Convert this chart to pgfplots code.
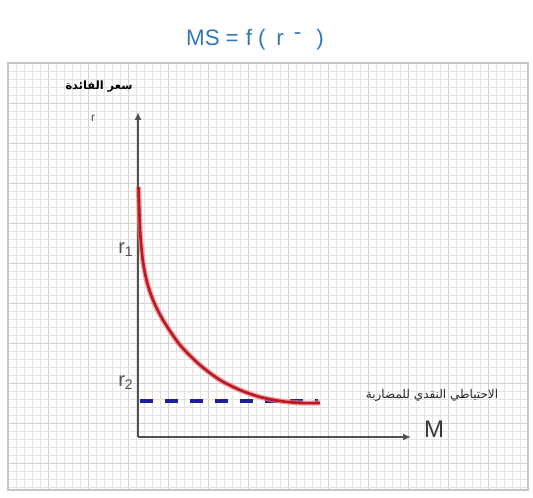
\documentclass[border=0pt]{standalone}
\usepackage{pgfplots}
\pgfplotsset{compat=1.18}
\usepackage{fontspec}
\setmainfont{Liberation Sans}
\newfontfamily\arabicfont[Script=Arabic]{DejaVu Sans}
\TeXXeTstate=1
\usetikzlibrary{arrows.meta}
\definecolor{titleblue}{RGB}{50,120,185}
\definecolor{curvered}{RGB}{185,25,35}
\definecolor{halored}{RGB}{240,120,125}
\definecolor{dashblue}{RGB}{30,30,160}
\definecolor{axgray}{RGB}{80,80,80}
\definecolor{gridc}{RGB}{228,225,225}
\definecolor{gridmaj}{RGB}{212,208,208}
\pgfplotstableread{
x y
138.5 187
139.5 215
140.5 237
143 262
147 282
153 300
163 320
180 345
200 365
220 380
240 390
260 397
280 401
300 403
320 403
}\curve
\begin{document}
\begin{tikzpicture}
\begin{axis}[
  x=0.5pt, y=0.5pt,
  xmin=8, xmax=528, ymin=63, ymax=490,
  y dir=reverse,
  axis line style={draw=gray!45, line width=0.6pt},
  xtick={8,48,...,528}, ytick={63,103,...,490},
  minor x tick num=4, minor y tick num=4,
  xticklabels={}, yticklabels={},
  major tick length=0pt, minor tick length=0pt,
  grid=both,
  major grid style={draw=gridmaj, line width=0.35pt},
  minor grid style={draw=gridc, line width=0.3pt},
  clip=false,
]
\coordinate (BL) at (axis cs:0,497);
\coordinate (TR) at (axis cs:533,0);
% axes
\addplot[axgray, line width=1.2pt, -{Latex[length=4pt,width=3.5pt]}] coordinates {(138,437) (138,112)};
\addplot[axgray, line width=1.2pt, -{Latex[length=4pt,width=3.5pt]}] coordinates {(138,437) (411,437)};
% dashed line
\addplot[dashblue, line width=2pt, dash pattern=on 6.5pt off 6pt] coordinates {(140,401) (318,401)};
% curve
\addplot[halored, line width=2.6pt, smooth, opacity=0.7] table[x=x,y=y] {\curve};
\addplot[curvered, line width=1.3pt, smooth] table[x=x,y=y] {\curve};
% texts
\node[text=titleblue, font=\fontsize{11.2}{13}\selectfont] at (axis cs:255,40) {MS\hspace{3pt}=\hspace{3.5pt}f\hspace{3pt}(\hspace{5.5pt}r\hspace{5pt}\raisebox{3.2pt}{-}\hspace{7.5pt})};
\node[font=\arabicfont\bfseries\fontsize{5.7}{7}\selectfont] at (axis cs:99,87) {\beginR سعر الفائدة\endR};
\node[font=\fontsize{6}{7}\selectfont, text=axgray] at (axis cs:93,118) {r};
\node[font=\arabicfont\fontsize{6}{7}\selectfont, text=black!85] at (axis cs:432,395) {\beginR الاحتياطي النقدي للمضاربة\endR};
\node[font=\fontsize{12}{14}\selectfont, text=axgray!70!black] at (axis cs:434,429) {M};
\node[font=\fontsize{10}{12}\selectfont, text=axgray] at (axis cs:126,250) {r\textsubscript{1}};
\node[font=\fontsize{10}{12}\selectfont, text=axgray] at (axis cs:126,383) {r\textsubscript{2}};
\end{axis}
\pgfresetboundingbox
\path (BL) rectangle (TR);
\end{tikzpicture}
\end{document}
